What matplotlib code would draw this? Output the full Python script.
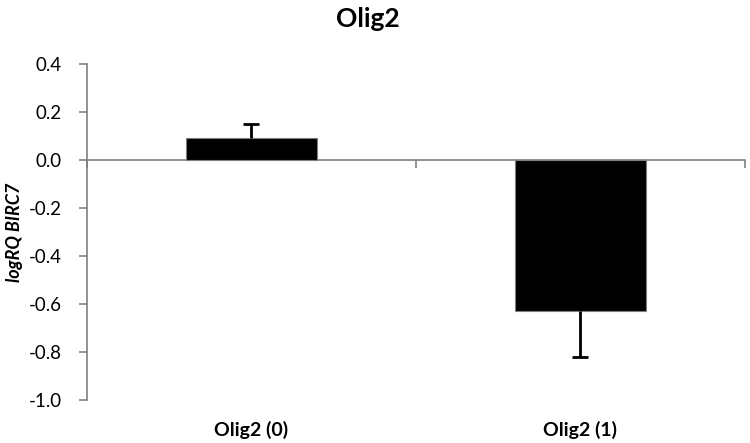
import numpy as np
import matplotlib
matplotlib.use("Agg")
import matplotlib.pyplot as plt
from matplotlib.transforms import blended_transform_factory

plt.rcParams['font.family'] = ['Lato', 'DejaVu Sans']

# datos
categorias = ["Olig2 (0)", "Olig2 (1)"]
valores = [0.09, -0.63]
err_abajo = [0.0, 0.19]
err_arriba = [0.06, 0.0]
ticks_y = [0.4, 0.2, 0.0, -0.2, -0.4, -0.6, -0.8, -1.0]

fig = plt.figure(figsize=(7.5, 4.43), dpi=100)
ax = fig.add_axes([0.116, 0.097, 0.877, 0.7585])

x = np.arange(len(categorias))
ax.bar(x, valores, width=0.4, color="black", edgecolor="#7f7f7f", linewidth=0.8, zorder=3)

# barras de error de un solo lado (sin remate en la barra)
v = np.array(valores)
fin = v + np.array(err_arriba) - np.array(err_abajo)
ax.vlines(x, v, fin, color="black", linewidth=2, zorder=4)
ax.plot(x, fin, linestyle="none", marker="_", markersize=11, markeredgewidth=2,
        color="black", zorder=4)

ax.set_xlim(-0.5, len(categorias) - 0.5)
ax.set_ylim(-1.0, 0.4)
ax.set_yticks(ticks_y)
ax.set_yticklabels([f"{t:.1f}" for t in ticks_y], fontsize=13.5)

# eje x en cero, marcas entre categorías
ax.spines['top'].set_visible(False)
ax.spines['right'].set_visible(False)
ax.spines['bottom'].set_position(('data', 0))
for s in ['left', 'bottom']:
    ax.spines[s].set_color("#808080")
    ax.spines[s].set_linewidth(1.2)
ax.set_xticks(np.arange(len(categorias) + 1) - 0.5)
ax.set_xticklabels([])
ax.tick_params(axis='x', direction='out', length=6, color="#808080", width=1.2)
ax.tick_params(axis='y', direction='out', length=6, color="#808080", width=1.2, pad=12)

trans = blended_transform_factory(ax.transData, ax.transAxes)
for xi, c in zip(x, categorias):
    ax.text(xi, -0.09, c, transform=trans, ha="center", va="center",
            fontsize=14, fontweight="bold")

ax.set_ylabel("logRQ BIRC7", fontsize=13, fontweight="bold", style="italic")
ax.yaxis.set_label_coords(-0.097, 0.5)
fig.suptitle("Olig2", x=0.49, y=0.985, fontsize=19, fontweight="bold")

fig.savefig("out.png", dpi=100)
